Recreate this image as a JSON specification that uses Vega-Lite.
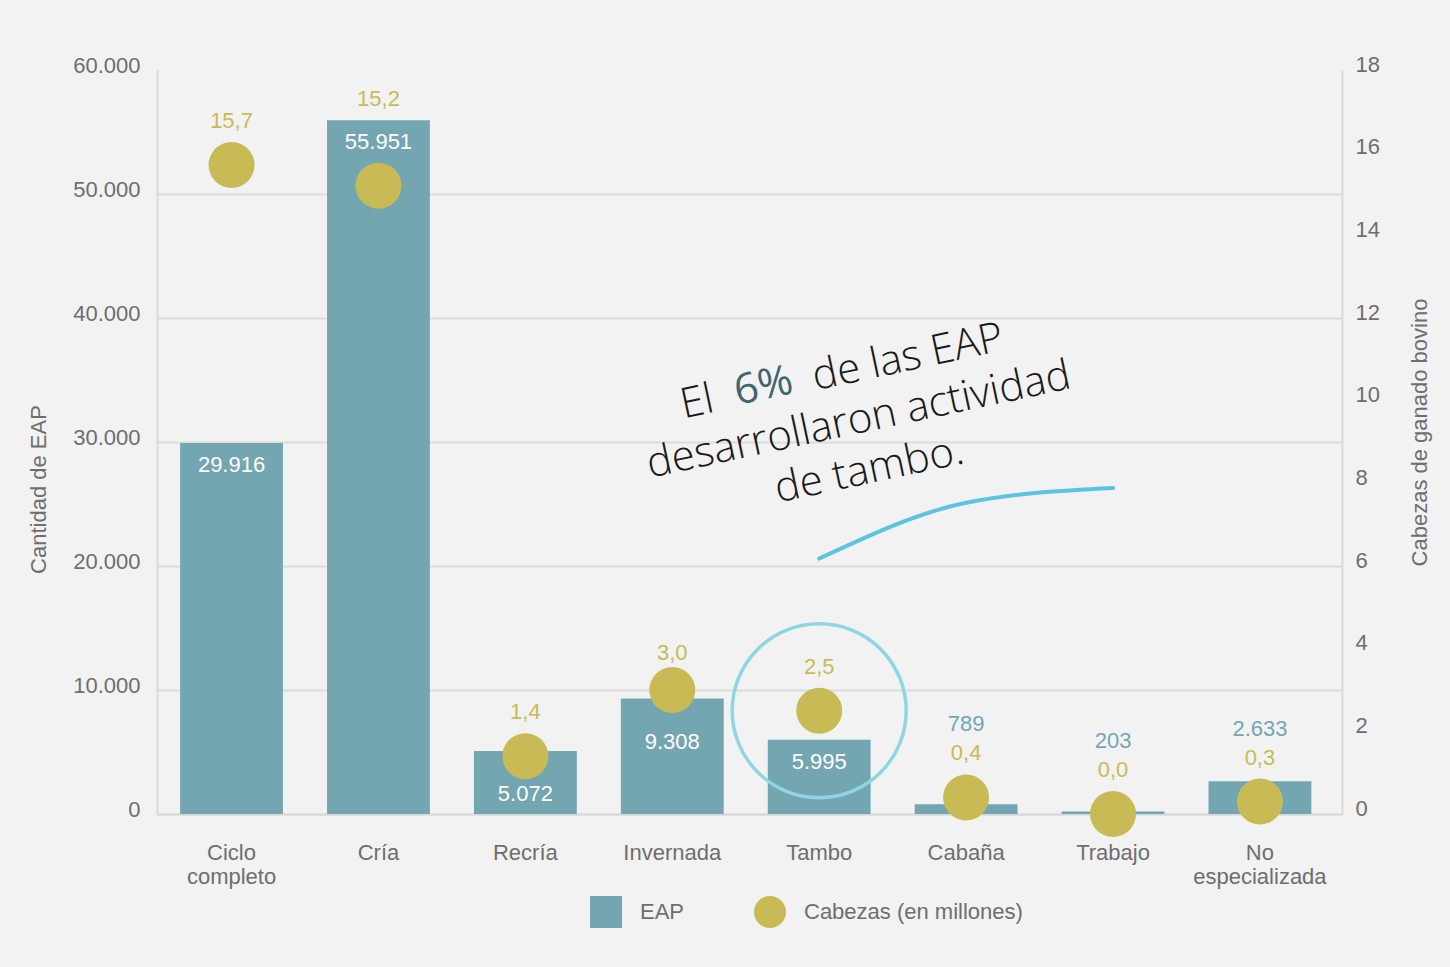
{
  "$schema": "https://vega.github.io/schema/vega-lite/v6.json",
  "width": 1185,
  "height": 744,
  "autosize": {"type": "none"},
  "padding": {"left": 157, "top": 70, "right": 108, "bottom": 153},
  "background": "#f2f2f2",
  "config": {
    "view": {"stroke": null},
    "font": "Liberation Sans",
    "locale": {"number": {"decimal": ",", "thousands": ".", "grouping": [3], "currency": ["$", ""]}},
    "axis": {
      "labelFont": "Liberation Sans",
      "labelFontSize": 22,
      "labelColor": "#6e6e6e",
      "titleFont": "Liberation Sans",
      "titleFontSize": 21,
      "titleFontWeight": "normal",
      "titleColor": "#6e6e6e",
      "ticks": false,
      "domainColor": "#d9d9d9",
      "domainWidth": 2,
      "gridColor": "#dcdcdc",
      "gridWidth": 2
    },
    "legend": {"labelFont": "Liberation Sans"}
  },
  "datasets": {
    "datos": [
      {"tipo": "Ciclo completo", "eap": 29916, "cabezas": 15.7},
      {"tipo": "Cría", "eap": 55951, "cabezas": 15.2},
      {"tipo": "Recría", "eap": 5072, "cabezas": 1.4},
      {"tipo": "Invernada", "eap": 9308, "cabezas": 3.0},
      {"tipo": "Tambo", "eap": 5995, "cabezas": 2.5},
      {"tipo": "Cabaña", "eap": 789, "cabezas": 0.4},
      {"tipo": "Trabajo", "eap": 203, "cabezas": 0.0},
      {"tipo": "No especializada", "eap": 2633, "cabezas": 0.3}
    ],
    "nota": [
      {"tipo": "Tambo", "eap": 32000, "p1": "El", "p2": "6%", "p3": "de las EAP", "resto": "desarrollaron actividad\nde tambo."}
    ],
    "trazo": [
      {"tipo": "Tambo", "eap": 20600},
      {"tipo": "Cabaña", "eap": 25100},
      {"tipo": "Trabajo", "eap": 26300}
    ]
  },
  "data": {"name": "datos"},
  "encoding": {
    "x": {
      "field": "tipo",
      "type": "nominal",
      "sort": null,
      "scale": {
        "domain": ["Ciclo completo", "Cría", "Recría", "Invernada", "Tambo", "Cabaña", "Trabajo", "No especializada"],
        "paddingInner": 0.3,
        "paddingOuter": 0.183,
        "align": 0.43
      },
      "axis": {
        "title": null,
        "labelAngle": 0,
        "labelExpr": "split(datum.label, ' ')",
        "labelLineHeight": 24,
        "labelPadding": 28,
        "grid": false
      }
    }
  },
  "layer": [
    {
      "encoding": {
        "y": {
          "field": "eap",
          "type": "quantitative",
          "scale": {"domain": [0, 60000], "nice": false},
          "axis": {
            "orient": "left",
            "values": [0, 10000, 20000, 30000, 40000, 50000, 60000],
            "format": ",d",
            "title": "Cantidad de EAP",
            "titleFontSize": 22,
            "titleY": 419,
            "labelPadding": 17,
            "labelOffset": -5,
            "titlePadding": 22,
            "grid": true,
            "gridOpacity": {"condition": {"test": "datum.value === 60000", "value": 0}, "value": 1}
          }
        }
      },
      "layer": [
        {
          "mark": {"type": "bar"},
          "encoding": {
            "color": {
              "datum": "EAP",
              "scale": {"domain": ["EAP", "Cabezas (en millones)"], "range": ["#74a6b2", "#c8bb55"]},
              "legend": {
                "title": null,
                "orient": "none",
                "legendX": 433,
                "legendY": 826,
                "direction": "horizontal",
                "symbolSize": 1024,
                "symbolStrokeWidth": 0,
                "symbolOpacity": 1,
                "labelFontSize": 22,
                "labelLimit": 400,
                "labelColor": "#6e6e6e",
                "labelOffset": 18,
                "columnPadding": 69,
                "encoding": {"symbols": {"shape": {"condition": {"test": "datum.value === 'EAP'", "value": "square"}, "value": "circle"}}}
              }
            }
          }
        },
        {
          "transform": [{"filter": "datum.eap >= 5000 && datum.tipo !== 'Recría' && datum.tipo !== 'Invernada'"}],
          "mark": {"type": "text", "color": "#ffffff", "fontSize": 22, "baseline": "middle", "dy": 22},
          "encoding": {"text": {"field": "eap", "type": "quantitative", "format": ",d"}}
        },
        {
          "transform": [{"filter": "datum.tipo === 'Recría' || datum.tipo === 'Invernada'"}],
          "mark": {"type": "text", "color": "#ffffff", "fontSize": 22, "baseline": "middle", "dy": 43},
          "encoding": {"text": {"field": "eap", "type": "quantitative", "format": ",d"}}
        },
        {
          "data": {"name": "trazo"},
          "mark": {"type": "line", "color": "#5bc4e1", "strokeWidth": 4, "interpolate": "monotone", "strokeCap": "round"},
          "encoding": {}
        },
        {
          "data": {"name": "nota"},
          "mark": {"type": "text", "font": "Open Sans", "fontWeight": 300, "fontSize": 42, "color": "#1a1a1a", "angle": 348, "align": "right", "baseline": "middle", "dx": -100, "dy": -40},
          "encoding": {"text": {"field": "p1"}}
        },
        {
          "data": {"name": "nota"},
          "mark": {"type": "text", "font": "Open Sans", "fontWeight": 400, "fontSize": 42, "color": "#3d6670", "angle": 348, "align": "center", "baseline": "middle", "dx": -48, "dy": -42},
          "encoding": {"text": {"field": "p2"}}
        },
        {
          "data": {"name": "nota"},
          "mark": {"type": "text", "font": "Open Sans", "fontWeight": 300, "fontSize": 42, "color": "#1a1a1a", "angle": 348, "align": "left", "baseline": "middle", "dx": 2, "dy": -40},
          "encoding": {"text": {"field": "p3"}}
        },
        {
          "data": {"name": "nota"},
          "mark": {"type": "text", "font": "Open Sans", "fontWeight": 300, "fontSize": 42, "color": "#1a1a1a", "angle": 348, "align": "center", "baseline": "middle", "lineBreak": "\n", "lineHeight": 51, "dx": 38, "dy": 11},
          "encoding": {"text": {"field": "resto"}}
        }
      ]
    },
    {
      "encoding": {
        "y": {
          "field": "cabezas",
          "type": "quantitative",
          "scale": {"domain": [0, 18], "nice": false},
          "axis": {
            "orient": "right",
            "values": [0, 2, 4, 6, 8, 10, 12, 14, 16, 18],
            "format": "d",
            "title": "Cabezas de ganado bovino",
            "titleFontSize": 22,
            "titleAngle": 270,
            "titleY": 362,
            "labelPadding": 13,
            "labelOffset": -6,
            "titlePadding": 52,
            "grid": false
          }
        }
      },
      "layer": [
        {
          "mark": {"type": "circle", "size": 2116, "opacity": 1},
          "encoding": {
            "color": {
              "datum": "Cabezas (en millones)",
              "scale": {"domain": ["EAP", "Cabezas (en millones)"], "range": ["#74a6b2", "#c8bb55"]},
              "legend": {
                "title": null,
                "orient": "none",
                "legendX": 433,
                "legendY": 826,
                "direction": "horizontal",
                "symbolSize": 1024,
                "symbolStrokeWidth": 0,
                "symbolOpacity": 1,
                "labelFontSize": 22,
                "labelLimit": 400,
                "labelColor": "#6e6e6e",
                "labelOffset": 18,
                "columnPadding": 69,
                "encoding": {"symbols": {"shape": {"condition": {"test": "datum.value === 'EAP'", "value": "square"}, "value": "circle"}}}
              }
            }
          }
        },
        {
          "transform": [{"filter": "datum.tipo === 'Tambo'"}],
          "mark": {"type": "point", "shape": "circle", "filled": false, "color": "#8fd6e4", "strokeWidth": 3.5, "size": 30276, "opacity": 1},
          "encoding": {}
        },
        {
          "transform": [{"filter": "datum.tipo !== 'Cría' && datum.tipo !== 'Invernada'"}],
          "mark": {"type": "text", "color": "#c8bb55", "fontSize": 22, "baseline": "middle", "dy": -44},
          "encoding": {"text": {"field": "cabezas", "type": "quantitative", "format": ".1f"}}
        },
        {
          "transform": [{"filter": "datum.tipo === 'Invernada'"}],
          "mark": {"type": "text", "color": "#c8bb55", "fontSize": 22, "baseline": "middle", "dy": -37},
          "encoding": {"text": {"field": "cabezas", "type": "quantitative", "format": ".1f"}}
        },
        {
          "transform": [{"filter": "datum.tipo === 'Cría'"}],
          "mark": {"type": "text", "color": "#c8bb55", "fontSize": 22, "baseline": "middle", "dy": -87},
          "encoding": {"text": {"field": "cabezas", "type": "quantitative", "format": ".1f"}}
        },
        {
          "transform": [{"filter": "datum.eap < 5000"}],
          "mark": {"type": "text", "color": "#74a6b2", "fontSize": 22, "baseline": "middle", "dy": -73},
          "encoding": {"text": {"field": "eap", "type": "quantitative", "format": ",d"}}
        }
      ]
    }
  ],
  "resolve": {"scale": {"y": "independent"}}
}
